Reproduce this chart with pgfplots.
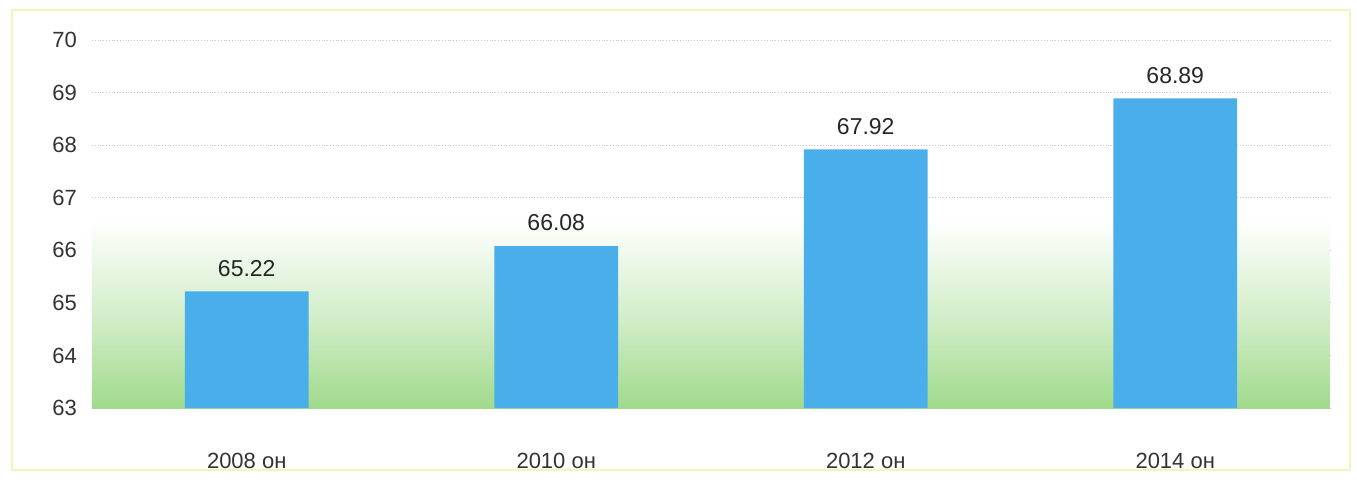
\documentclass[border=0pt]{standalone}
\usepackage{fontspec}
\setmainfont{Liberation Sans}
\usepackage{pgfplots}
\pgfplotsset{compat=1.18}
\definecolor{barblue}{RGB}{74,174,234}
\definecolor{bggreen}{RGB}{160,218,140}
\definecolor{frameyellow}{RGB}{248,244,185}
\begin{document}
\begin{tikzpicture}
\path (-46pt,-37.5pt) rectangle (632.5pt,204pt);
\fill[white] (-46pt,-37.5pt) rectangle (632.5pt,204pt);
\draw[frameyellow, line width=1.2pt] (-40pt,-31pt) rectangle (629pt,199pt);
\begin{axis}[
  at={(0pt,0pt)}, anchor=south west,
  scale only axis, width=619pt, height=184pt,
  xmin=-0.5, xmax=3.5, ymin=63, ymax=70,
  ytick={63,64,...,70},
  xtick={0,1,2,3},
  xticklabels={2008 он,2010 он,2012 он,2014 он},
  axis line style={draw=none},
  major tick length=0pt,
  ymajorgrids, grid style={gray!45, densely dotted, line width=0.4pt},
  tick label style={font=\fontsize{11}{13}\selectfont, text=black!80},
  xticklabel style={yshift=-19pt},
  yticklabel style={xshift=-4pt},
  /pgf/number format/assume math mode=true,
  clip=false,
]
\fill[bottom color=bggreen, top color=white, middle color=bggreen!45]
  (axis cs:-0.5,63) rectangle (axis cs:3.5,66.6);
\addplot[ybar, bar width=0.4, fill=barblue, draw=none,
  nodes near coords,
  nodes near coords style={font=\fontsize{11.5}{13}\selectfont, text=black!85, yshift=4pt},
  /pgf/number format/.cd, fixed, precision=2, fixed zerofill]
  coordinates {(0,65.22) (1,66.08) (2,67.92) (3,68.89)};
\end{axis}
\end{tikzpicture}
\end{document}
